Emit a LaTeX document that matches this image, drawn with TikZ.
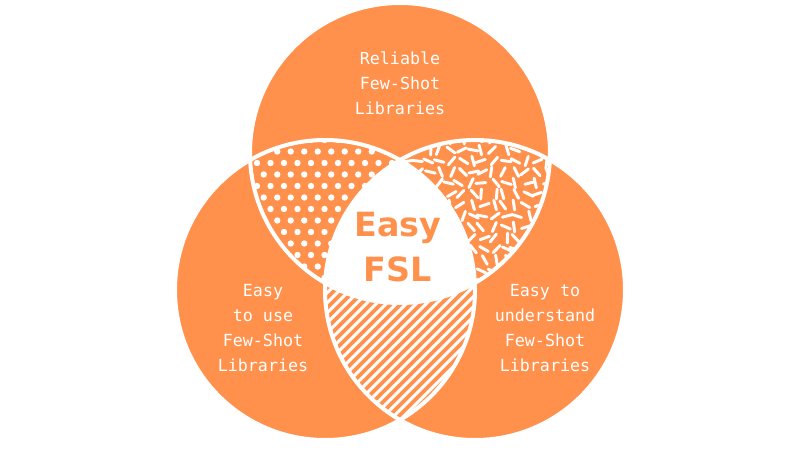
\documentclass[tikz,border=0pt]{standalone}
\usepackage{fontspec}
\setmonofont{DejaVu Sans Mono}
\setsansfont{DejaVu Sans}
\definecolor{org}{HTML}{FF914D}
\begin{document}
\begin{tikzpicture}[x=0.75pt,y=-0.75pt,
  lbl/.style={text=white,font=\ttfamily\fontsize{12.5}{18.75}\selectfont,align=center},
  ring/.style={draw=white,line width=3pt}]
\useasboundingbox (0,0) rectangle (800,450);
\def\T{(400,153) circle[radius=150]}
\def\L{(325,290) circle[radius=150]}
\def\R{(475,290) circle[radius=150]}
\fill[org] \T; \fill[org] \L; \fill[org] \R;
% dots: top & left
\begin{scope}\clip \T; \clip \L;
  \foreach \i in {0,...,20}{\foreach \j in {0,...,20}{
    \fill[white] ({230+\i*13.5+mod(\j,2)*6.75},{140+\j*11.5}) circle[radius=3.2];}}
\end{scope}
% stripes: left & right
\begin{scope}\clip \L; \clip \R;
  \foreach \k in {-30,...,30}{
    \draw[white,line width=2.2pt] ({250+\k*10},460) -- ++(260,-260);}
\end{scope}
% dashes: top & right
\begin{scope}\clip \T; \clip \R;
  \pgfmathsetseed{7}
  \foreach \i in {0,...,15}{\foreach \j in {0,...,17}{
    \pgfmathsetmacro{\a}{rnd*180}
    \pgfmathsetmacro{\dx}{rnd*6}
    \draw[white,line width=2.2pt,line cap=round] ({392+\i*11+\dx},{128+\j*11}) ++(\a:5) -- ++(\a+180:10);}}
\end{scope}
% center
\begin{scope}\clip \T; \clip \L; \fill[white] \R;\end{scope}
\draw[ring] \T; \draw[ring] \L; \draw[ring] \R;
\node[lbl] (top) at (400,83) {Reliable\\Few-Shot\\Libraries};
\node[lbl] (left) at (263,328) {Easy\\to use\\Few-Shot\\Libraries};
\node[lbl] (right) at (545,328) {Easy to\\understand\\Few-Shot\\Libraries};
\node[text=org,font=\sffamily\bfseries\fontsize{25}{34}\selectfont,align=center] (c) at (398,247) {Easy\\FSL};
\end{tikzpicture}
\end{document}
